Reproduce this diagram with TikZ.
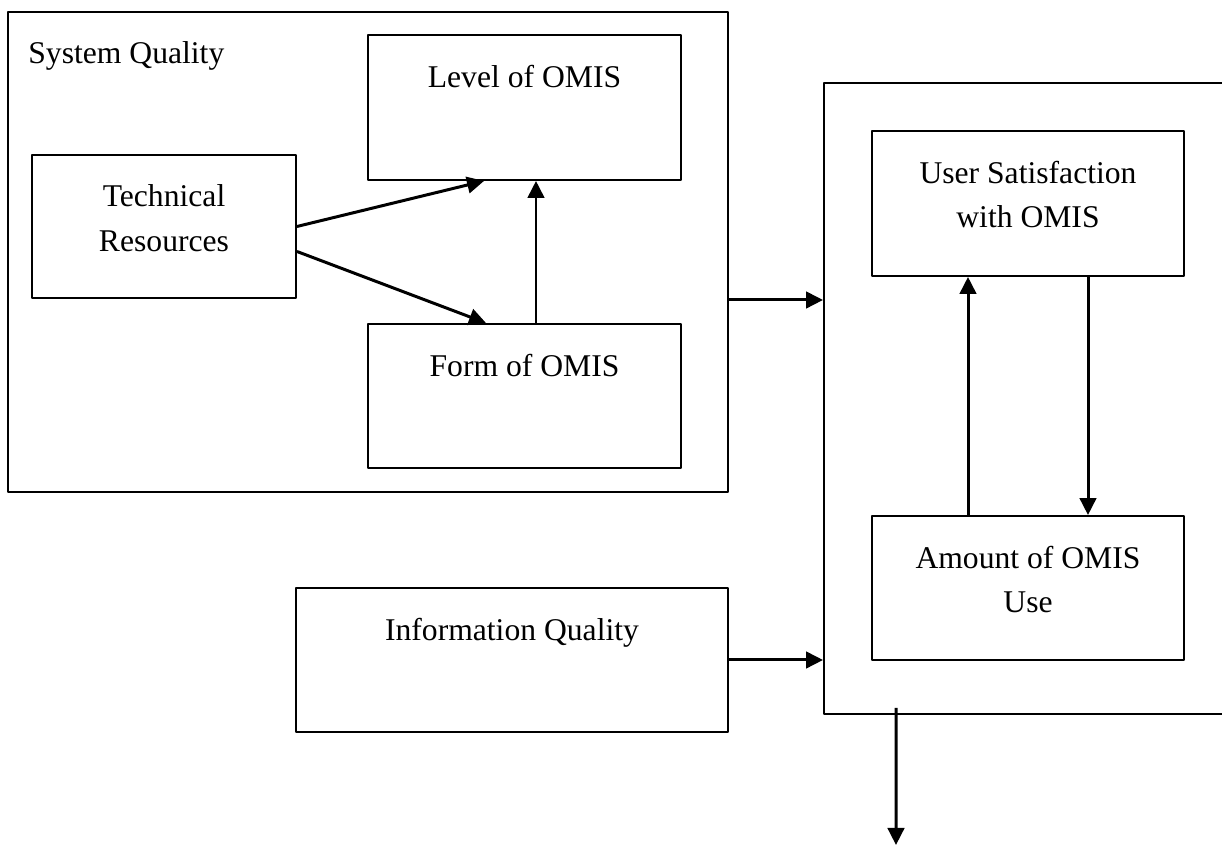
\documentclass[tikz,border=0pt]{standalone}
\usepackage{fontspec}
\setmainfont{Liberation Serif}
\usetikzlibrary{arrows.meta,positioning}
\begin{document}
\begin{tikzpicture}[>={Triangle[length=3.4mm,width=3.3mm]},line join=round,
	font=\fontsize{18}{25.5}\selectfont,
	box/.style={draw,line width=1.1pt,inner sep=0pt},
	txt/.style={inner sep=0pt,align=center},
	link/.style={->,line width=1.7pt}]
	\clip (0,0) rectangle (24.44,16.9);
	% boxes
	\node[box,minimum width=14.4cm,minimum height=9.6cm] (sq) at (7.36,11.86) {};
	\node[box,minimum width=6.26cm,minimum height=2.9cm] (lev) at (10.49,14.75) {};
	\node[box,minimum width=5.28cm,minimum height=2.86cm] (tech) at (3.28,12.37) {};
	\node[box,minimum width=6.26cm,minimum height=2.88cm] (form) at (10.49,8.98) {};
	\node[box,minimum width=8.64cm,minimum height=2.88cm] (info) at (10.24,3.7) {};
	\node[box,minimum width=8.2cm,minimum height=12.62cm] (usebox) at (20.58,8.93) {};
	\node[box,minimum width=6.24cm,minimum height=2.9cm] (sat) at (20.56,12.83) {};
	\node[box,minimum width=6.24cm,minimum height=2.88cm] (amt) at (20.56,5.14) {};
	\coordinate (out) at (17.92,0);
	% labels
	\node[txt,anchor=north west] (sqtxt) at ([xshift=.42cm,yshift=-.61cm]sq.north west) {System Quality};
	\node[txt,below=.61cm of lev.north] (levtxt) {Level of OMIS};
	\node[txt,below=.61cm of tech.north] (techtxt) {Technical\\Resources};
	\node[txt,below=.61cm of form.north] (formtxt) {Form of OMIS};
	\node[txt,below=.61cm of info.north] (infotxt) {Information Quality};
	\node[txt,below=.61cm of sat.north] (sattxt) {User Satisfaction\\with OMIS};
	\node[txt,below=.61cm of amt.north] (amttxt) {Amount of OMIS\\Use};
	% arrows
	\draw[link]
	(tech.east) -- ([xshift=2.34cm]lev.south west);
	\draw[link]
	([yshift=-.5cm]tech.east) -- ([xshift=2.38cm]form.north west);
	\draw[link]
	([xshift=.23cm]form.north) -- ([xshift=.23cm]lev.south);
	\draw[link]
	([yshift=-.96cm]sq.east) -- ([yshift=-.96cm]sq.east -| usebox.west);
	\draw[link]
	(info.east) -- (info.east -| usebox.west);
	\draw[link]
	([xshift=-1.2cm]amt.north) -- ([xshift=-1.2cm]sat.south);
	\draw[link]
	([xshift=1.2cm]sat.south) -- ([xshift=1.2cm]amt.north);
	\draw[link]
	([xshift=-2.66cm,yshift=.14cm]usebox.south) -- (out);
\end{tikzpicture}
\end{document}
